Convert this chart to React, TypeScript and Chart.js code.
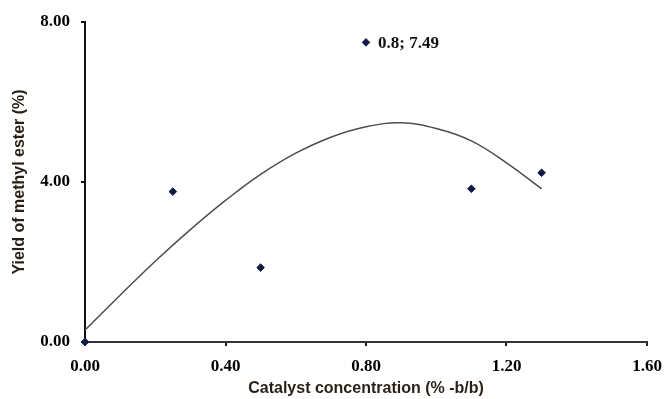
import React, { useEffect, useRef } from "react";
import { Chart, registerables } from "chart.js";

Chart.register(...registerables);

// Observed data points: catalyst concentration (% b/b) vs yield (%)
const catalystConc = [0, 0.25, 0.5, 0.8, 1.1, 1.3];
const yieldValues = [0, 3.76, 1.86, 7.49, 3.83, 4.23];

// Trendline
const trendX = [0, 0.1, 0.2, 0.3, 0.4, 0.5, 0.6, 0.7, 0.8, 0.9, 1.0, 1.1, 1.2, 1.3];
const trendY = [0.3, 1.17, 2.02, 2.81, 3.54, 4.19, 4.72, 5.12, 5.38, 5.48, 5.34, 5.03, 4.48, 3.83];

// Axis ticks
const xTicks = [0, 0.4, 0.8, 1.2, 1.6];
const yTicks = [0, 4, 8];

// Annotated point
const annotIndex = 3;
const annotText = "0.8; 7.49";

const xTitle = "Catalyst concentration (% -b/b)";
const yTitle = "Yield of methyl ester (%)";

const tickFont = { family: "'Liberation Serif', 'Times New Roman', serif", size: 17, weight: "bold" as const };
const titleFont = { family: "'Liberation Sans', Arial, sans-serif", size: 16, weight: "bold" as const };
const titleColor = "#2a1f14";

const annotPlugin = {
  id: "annotPlugin",
  afterDatasetsDraw(chart: any) {
    const xs = chart.scales.x;
    const ys = chart.scales.y;
    const px = xs.getPixelForValue(catalystConc[annotIndex]);
    const py = ys.getPixelForValue(yieldValues[annotIndex]);
    const ctx = chart.ctx;
    ctx.save();
    ctx.font = `bold 17px 'Liberation Serif', 'Times New Roman', serif`;
    ctx.fillStyle = "#111";
    ctx.textAlign = "left";
    ctx.textBaseline = "middle";
    ctx.fillText(annotText, px + 12, py + 1);
    ctx.restore();
  },
};

export default function App() {
  const canvasRef = useRef<HTMLCanvasElement | null>(null);

  useEffect(() => {
    document.body.style.margin = "0";
    const canvas = canvasRef.current;
    if (!canvas) return;
    const chart = new Chart(canvas, {
      type: "scatter",
      data: {
        datasets: [
          {
            type: "line",
            label: "Trend",
            data: trendX.map((x, i) => ({ x, y: trendY[i] })),
            borderColor: "#4d4d4d",
            borderWidth: 1.5,
            pointRadius: 0,
            tension: 0.4,
            fill: false,
            order: 2,
          } as any,
          {
            type: "scatter",
            label: "Yield",
            data: catalystConc.map((x, i) => ({ x, y: yieldValues[i] })),
            pointStyle: "rectRot",
            pointRadius: 3.8,
            backgroundColor: "#0d1c44",
            borderColor: "#0d1c44",
            borderWidth: 1,
            clip: false,
            order: 1,
          } as any,
        ],
      },
      options: {
        responsive: false,
        animation: false,
        layout: { autoPadding: false, padding: { left: 0, right: 18, top: 22, bottom: 0 } },
        plugins: {
          legend: { display: false },
          tooltip: { enabled: false },
        },
        scales: {
          x: {
            type: "linear",
            min: 0,
            max: 1.6,
            afterBuildTicks: (scale: any) => {
              scale.ticks = xTicks.map((v) => ({ value: v }));
            },
            afterFit: (scale: any) => {
              scale.height = 57;
              scale.paddingLeft = 0;
              scale.paddingRight = 0;
            },
            ticks: {
              font: tickFont,
              color: "#000",
              padding: 10,
              maxRotation: 0,
              callback: (v: any) => Number(v).toFixed(2),
            },
            grid: {
              display: true,
              drawOnChartArea: false,
              drawTicks: true,
              tickLength: 4,
              color: "#222",
              lineWidth: 2,
            },
            border: { display: true, color: "#333", width: 2 },
            title: {
              display: true,
              text: xTitle,
              font: titleFont,
              color: titleColor,
              padding: { top: 0, bottom: 1 },
            },
          },
          y: {
            type: "linear",
            min: 0,
            max: 8,
            afterBuildTicks: (scale: any) => {
              scale.ticks = yTicks.map((v) => ({ value: v }));
            },
            afterFit: (scale: any) => {
              scale.width = 85;
              scale.paddingTop = 0;
              scale.paddingBottom = 0;
            },
            ticks: {
              font: tickFont,
              color: "#000",
              padding: 11,
              callback: (v: any) => Number(v).toFixed(2),
            },
            grid: {
              display: true,
              drawOnChartArea: false,
              drawTicks: true,
              tickLength: 4,
              color: "#111",
              lineWidth: 2,
            },
            border: { display: true, color: "#111", width: 2 },
            title: {
              display: true,
              text: yTitle,
              font: titleFont,
              color: titleColor,
              padding: { top: 10, bottom: 0 },
            },
          },
        },
      },
      plugins: [annotPlugin],
    });
    return () => chart.destroy();
  }, []);

  return (
    <div style={{ position: "absolute", left: 0, top: 0, width: 665, height: 399, background: "#fff" }}>
      <canvas ref={canvasRef} width={665} height={399} />
    </div>
  );
}
